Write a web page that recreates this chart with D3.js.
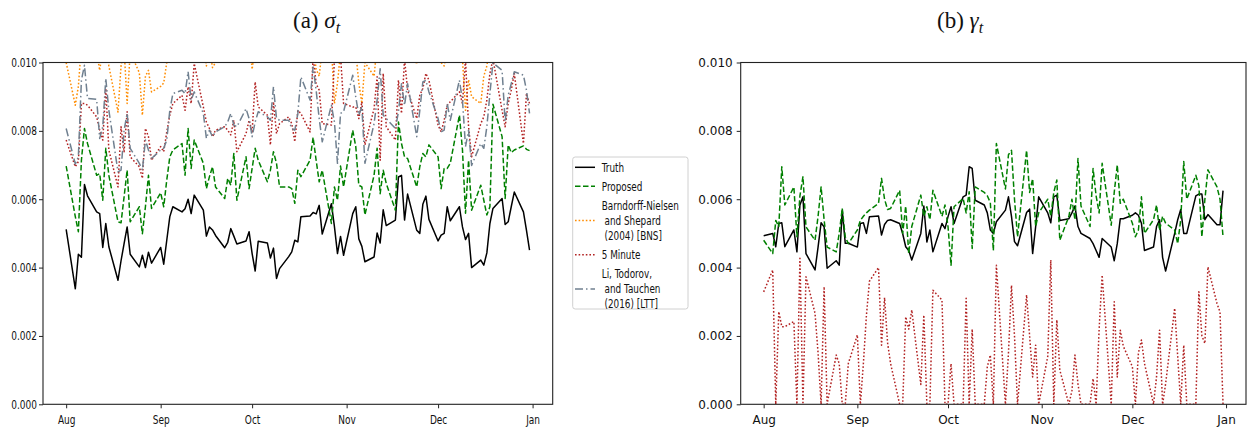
<!DOCTYPE html>
<html>
<head>
<meta charset="utf-8">
<script src="https://cdn.jsdelivr.net/npm/d3@7"></script>
<style>
  body { margin: 0; background: #fff; }
  svg { display: block; }
  .axis path, .axis line { stroke: #222; }
  .axis text { fill: #111; font-family: "DejaVu Sans", sans-serif; }
</style>
</head>
<body>
<svg id="fig" width="1249" height="429"></svg>
<script>
// trading days Aug 1 .. Dec 31 (weekdays)
var startDay = Date.UTC(2014, 7, 1);
var endDay = Date.UTC(2015, 0, 1);
var days = d3.utcDay.range(new Date(startDay), new Date(endDay))
    .filter(function (d) { return d.getUTCDay() !== 0 && d.getUTCDay() !== 6; });

var monthTicks = d3.utcMonth.range(new Date(startDay), new Date(Date.UTC(2015, 0, 2)));
var yTicks = [0, 0.002, 0.004, 0.006, 0.008, 0.010];

// all values below are x 1e-3
// (a) sigma_t
var sigmaTruth = [
    5.12, 3.38, 4.39, 4.30, 6.43, 6.10, 5.63, 5.58, 4.59, 5.29, 4.61, 3.63, 4.20, 4.70, 5.19, 4.39, 4.02, 4.36, 4.00, 4.45, 4.13,
    4.59, 4.10, 4.80, 5.49, 5.78, 5.63, 5.72, 6.00, 5.58, 6.12, 5.68, 4.92, 5.19, 5.10, 4.94, 4.58, 4.74, 5.14, 4.92, 4.69, 4.78, 5.05,
    4.41, 3.90, 4.77, 4.72, 4.28, 4.57, 3.68, 3.97, 4.32, 4.46, 4.80, 4.75, 5.49, 5.51, 5.61, 5.57, 5.82, 4.98, 5.87, 5.20, 4.41, 4.91, 4.36,
    5.58, 5.78, 4.84, 4.62, 4.17, 4.31, 5.01, 4.72, 5.69, 5.23, 5.39, 6.65, 6.70, 5.39, 6.15, 5.09, 5.00, 5.85, 6.09, 5.41,
    4.78, 4.95, 5.00, 5.78, 5.37, 5.78, 5.19, 4.82, 5.00, 4.00, 4.22, 4.07, 4.43, 5.29, 5.73, 6.02, 5.26, 5.34, 5.78, 6.21, 5.63, 5.09, 4.51
];
var sigmaProposed = [
    6.97, 5.49, 5.05, 7.14, 8.07, 7.63, 6.70, 6.75, 5.97, 7.49, 6.70, 5.34, 5.31, 6.07, 6.85, 5.34, 5.78, 4.99, 5.78, 6.70, 5.73,
    6.19, 5.78, 6.56, 7.24, 7.44, 7.63, 6.70, 8.07, 6.90, 7.73, 7.05, 6.31, 6.66, 6.95, 6.36, 6.02, 6.61, 6.41, 7.34, 5.97, 7.24, 6.31,
    6.90, 7.49, 7.14, 6.51, 6.85, 7.39, 7.05, 6.36, 6.36, 6.31, 5.88, 6.85, 6.66, 7.14, 7.81, 7.14, 6.51, 6.85, 5.29, 6.36, 5.97, 6.97, 6.36,
    8.02, 7.54, 6.41, 6.36, 5.54, 6.70, 7.49, 6.16, 6.85, 6.46, 5.68, 8.26, 7.63, 7.24, 7.19, 6.36, 6.95, 7.34, 7.24, 7.59,
    7.24, 6.31, 6.90, 6.90, 7.05, 8.46, 7.44, 5.59, 7.14, 5.68, 6.41, 5.97, 5.54, 5.78, 8.78, 7.83, 6.02, 7.59, 7.36, 7.44, 7.56, 7.46, 7.42
];
var sigmaBNS = [
    10.0, 8.75, 9.3, 10.5, 10.8, 10.6, 10.3, 9.77, 10.4, 10.8, 9.9, 8.55, 9.9, 10.4, 8.8, 10.3, 9.7, 8.46, 9.6, 9.77, 9.14,
    9.3, 9.4, 10.0, 10.6, 10.8, 10.8, 10.9, 10.7, 10.8, 10.6, 10.8, 9.9, 10.4, 9.85, 10.0, 10.5, 10.8, 10.9, 10.7, 10.8, 10.6, 10.8,
    9.8, 10.5, 10.8, 10.9, 10.7, 10.8, 10.9, 10.6, 10.8, 10.7, 10.9, 10.8, 10.6, 10.8, 10.5, 9.8, 9.6, 10.4, 10.5, 8.8, 9.4, 10.3, 10.7,
    10.5, 10.3, 9.4, 8.8, 10.0, 9.6, 10.5, 10.8, 10.7, 10.9, 10.6, 10.8, 10.7, 10.9, 10.8, 9.95, 10.4, 10.8, 10.7, 10.6,
    10.5, 10.0, 9.9, 10.4, 10.8, 10.6, 10.1, 8.6, 9.5, 9.0, 8.8, 9.6, 9.9, 10.5, 10.8, 10.7, 10.9, 10.8, 10.6, 10.8, 10.7, 10.9, 10.8
];
var sigmaFiveMin = [
    7.73, 6.95, 7.10, 8.80, 8.80, 8.75, 8.41, 8.02, 7.73, 9.24, 7.44, 6.36, 8.12, 7.39, 8.56, 7.24, 6.95, 6.61, 8.07, 7.83, 7.14,
    7.54, 7.39, 7.97, 8.46, 8.80, 9.04, 8.60, 9.29, 8.80, 9.97, 8.70, 8.26, 8.07, 7.83, 8.02, 8.12, 8.02, 7.88, 8.31, 7.39, 7.92, 8.31,
    7.97, 9.43, 8.70, 8.46, 7.59, 8.85, 7.92, 8.21, 8.41, 8.21, 7.68, 8.60, 8.51, 7.97, 10.2, 9.38, 9.19, 8.21, 8.17, 10.1, 10.3, 10.2, 8.80,
    8.70, 8.70, 8.36, 8.85, 7.59, 8.65, 9.58, 7.14, 9.68, 8.12, 7.73, 9.48, 8.51, 10.1, 9.19, 8.36, 9.04, 9.24, 9.68, 9.48,
    8.17, 7.97, 8.31, 8.75, 8.85, 9.14, 8.80, 10.1, 8.12, 7.24, 8.21, 8.41, 8.90, 9.68, 10.1, 8.60, 8.12, 8.80, 9.19, 9.68, 7.63, 9.09, 8.80
];
var sigmaLTT = [
    8.07, 7.03, 7.24, 9.48, 9.92, 8.95, 8.92, 7.78, 8.12, 9.53, 8.60, 6.80, 6.85, 8.02, 8.51, 7.49, 7.05, 6.85, 7.73, 7.44, 7.19,
    7.44, 7.49, 7.73, 8.60, 9.09, 9.19, 9.09, 9.73, 8.90, 9.14, 8.51, 7.78, 8.02, 7.83, 7.97, 8.12, 8.26, 8.51, 8.17, 8.12, 8.65, 8.36,
    7.83, 8.26, 8.56, 8.41, 8.31, 9.29, 8.36, 8.31, 8.31, 8.07, 8.02, 8.51, 9.58, 8.90, 9.87, 9.19, 8.36, 7.68, 8.75, 8.26, 7.05, 8.51, 8.56,
    9.63, 8.99, 8.46, 8.70, 7.05, 8.21, 8.90, 9.82, 8.46, 8.36, 8.07, 8.56, 9.38, 8.75, 9.38, 7.83, 8.60, 9.43, 9.48, 9.14,
    8.36, 7.97, 8.02, 8.80, 8.31, 9.48, 8.90, 7.54, 8.02, 6.99, 7.63, 7.49, 8.12, 9.09, 9.99, 9.77, 8.26, 9.04, 9.38, 9.73, 9.63, 9.19, 8.51
];

// (b) gamma_t
var gammaTruth = [
    4.93, 5.00, 4.61, 5.29, 5.31, 4.61, 5.10, 4.46, 5.83, 6.07, 4.41, 3.93, 4.60, 5.31, 5.19, 3.98, 4.20, 4.07, 5.68, 4.71, 4.71,
    4.60, 5.29, 5.31, 5.00, 5.49, 5.51, 4.95, 5.26, 5.38, 5.40, 5.29, 4.99, 4.61, 4.50, 4.22, 5.00, 5.80, 4.75, 5.10, 4.46, 5.29, 5.14,
    5.49, 5.78, 5.29, 6.07, 6.12, 6.95, 6.90, 5.97, 5.83, 5.60, 5.10, 5.00, 5.34, 5.68, 6.07, 5.50, 4.76, 4.64, 5.61, 5.71, 4.41, 5.20, 6.07,
    5.60, 5.31, 6.07, 6.12, 5.38, 5.43, 5.60, 5.80, 5.20, 5.00, 4.85, 4.70, 4.50, 4.30, 4.85, 4.60, 4.20, 4.70, 5.43, 5.43,
    5.53, 5.60, 5.53, 5.30, 4.50, 4.60, 5.20, 5.40, 4.30, 3.90, 5.00, 5.40, 5.70, 5.00, 5.00, 6.10, 6.15, 6.15, 5.40, 5.55, 5.25, 5.25, 6.25
];
var gammaProposed = [
    4.80, 4.41, 5.38, 5.20, 6.95, 5.83, 6.36, 4.90, 6.10, 6.66, 5.19, 4.80, 5.50, 6.36, 5.40, 4.60, 4.46, 5.00, 5.73, 4.90, 4.70,
    5.10, 5.38, 5.50, 5.60, 5.68, 5.88, 6.61, 6.00, 5.70, 5.73, 6.26, 5.00, 5.80, 4.41, 5.20, 6.12, 5.50, 5.78, 5.40, 6.26, 5.50, 5.83,
    5.20, 4.07, 5.78, 6.02, 5.60, 6.22, 4.56, 6.36, 6.20, 6.10, 5.90, 4.50, 7.63, 6.30, 7.30, 7.43, 6.00, 4.90, 7.43, 6.20, 6.60, 5.20, 5.60,
    6.00, 5.50, 6.20, 6.56, 4.80, 5.50, 6.00, 5.40, 7.19, 5.80, 5.20, 6.90, 6.10, 5.60, 7.05, 5.24, 6.20, 7.00, 5.88, 6.00,
    5.30, 4.90, 5.10, 6.07, 5.00, 5.40, 5.83, 5.09, 5.50, 5.30, 5.10, 4.70, 5.40, 7.10, 6.00, 6.70, 6.40, 4.90, 6.00, 6.86, 6.36, 6.00, 4.90
];
var gammaFiveMin = [
    3.29, 3.93, 0.00, 2.71, 2.27, 2.27, 2.42, 0.00, 4.27, 0.00, 3.73, 2.66, 1.50, 0.00, 3.44, 0.00, 1.44, 1.19, 0.00, 0.00, 1.19,
    2.03, 0.00, 1.20, 2.60, 3.60, 4.00, 1.73, 3.12, 1.80, 1.19, 0.00, 0.00, 2.56, 2.20, 2.76, 0.58, 2.61, 0.00, 0.00, 3.34, 3.05, 0.00,
    0.00, 1.19, 0.00, 0.00, 3.10, 0.00, 2.20, 0.00, 0.00, 1.10, 1.44, 0.00, 4.07, 0.00, 1.50, 3.48, 2.00, 0.00, 3.20, 2.00, 0.80, 1.73, 0.00,
    1.40, 4.22, 0.00, 2.47, 1.00, 0.00, 0.40, 1.44, 0.60, 0.00, 0.00, 0.75, 0.00, 2.20, 3.78, 0.00, 3.00, 0.80, 2.17, 1.70,
    1.10, 0.00, 1.50, 1.88, 1.20, 0.00, 0.80, 2.17, 0.00, 0.60, 2.81, 1.40, 0.00, 1.73, 0.00, 0.00, 3.29, 2.00, 1.78, 4.02, 2.95, 2.70, 0.00
];

var styles = {
    truth:    { color: '#000000', dash: null,        width: 1.5 },
    proposed: { color: '#008000', dash: '5.5,2.5',   width: 1.5 },
    bns:      { color: '#ff8c00', dash: '1.6,2',     width: 1.5 },
    fivemin:  { color: '#b22222', dash: '1.6,2',     width: 1.5 },
    ltt:      { color: '#708090', dash: '8,3,1.5,3', width: 1.5 }
};

var svg = d3.select('#fig');
var pad = 7.6 * 864e5; // matplotlib 5% x margin

function drawPanel(cfg) {
    var x = d3.scaleUtc()
        .domain([new Date(days[0].getTime() - pad), new Date(days[days.length - 1].getTime() + pad)])
        .range([cfg.left, cfg.right]);
    var y = d3.scaleLinear().domain([0, 0.010]).range([cfg.bottom, cfg.top]);

    svg.append('clipPath').attr('id', cfg.id + '-clip')
        .append('rect')
        .attr('x', cfg.left).attr('y', cfg.top)
        .attr('width', cfg.right - cfg.left).attr('height', cfg.bottom - cfg.top);

    var g = svg.append('g').attr('clip-path', 'url(#' + cfg.id + '-clip)');

    cfg.series.forEach(function (s) {
        var st = styles[s.style];
        var line = d3.line()
            .x(function (v, i) { return x(days[i]); })
            .y(function (v) { return y(v * 1e-3); });
        g.append('path')
            .attr('d', line(s.values))
            .attr('fill', 'none')
            .attr('stroke', st.color)
            .attr('stroke-width', st.width)
            .attr('stroke-dasharray', st.dash)
            .attr('stroke-linejoin', 'round');
    });

    var sx = cfg.squeeze;
    var xAxis = svg.append('g').attr('class', 'axis')
        .attr('transform', 'translate(0,' + cfg.bottom + ')')
        .call(d3.axisBottom(x).tickValues(monthTicks).tickFormat(d3.utcFormat('%b')).tickSizeOuter(0).tickSize(4).tickPadding(7));
    xAxis.select('.domain').remove();
    xAxis.selectAll('text').style('font-size', cfg.fontSize + 'px')
        .attr('transform', 'scale(' + sx + ',1)');

    var yAxis = svg.append('g').attr('class', 'axis')
        .attr('transform', 'translate(' + cfg.left + ',0)')
        .call(d3.axisLeft(y).tickValues(yTicks).tickFormat(d3.format('.3f')).tickSizeOuter(0).tickSize(4));
    yAxis.select('.domain').remove();
    yAxis.selectAll('text').style('font-size', cfg.fontSize + 'px')
        .attr('x', -cfg.yLabelGap / sx)
        .attr('transform', 'scale(' + sx + ',1)');

    svg.append('rect')
        .attr('x', cfg.left).attr('y', cfg.top)
        .attr('width', cfg.right - cfg.left).attr('height', cfg.bottom - cfg.top)
        .attr('fill', 'none').attr('stroke', '#222').attr('stroke-width', 1.1);

    var title = svg.append('text')
        .attr('x', cfg.titleX).attr('y', 28)
        .style('font-family', '"Liberation Serif", "DejaVu Serif", serif')
        .style('font-size', '23px').attr('fill', '#111');
    title.append('tspan').text(cfg.titleTag + ' ');
    title.append('tspan').style('font-style', 'italic').text(cfg.titleSymbol);
    title.append('tspan').style('font-style', 'italic').style('font-size', '16px')
        .attr('dy', 5).text('t');
}

drawPanel({
    id: 'sigma', left: 43, right: 552.7, top: 62.5, bottom: 404.3,
    squeeze: 0.72, fontSize: 12.5, yLabelGap: 6,
    titleX: 293, titleTag: '(a)', titleSymbol: 'σ',
    series: [
        { style: 'truth', values: sigmaTruth },
        { style: 'proposed', values: sigmaProposed },
        { style: 'bns', values: sigmaBNS },
        { style: 'fivemin', values: sigmaFiveMin },
        { style: 'ltt', values: sigmaLTT }
    ]
});

drawPanel({
    id: 'gamma', left: 740.7, right: 1246, top: 62.5, bottom: 404.3,
    squeeze: 1, fontSize: 12, yLabelGap: 8,
    titleX: 937, titleTag: '(b)', titleSymbol: 'γ',
    series: [
        { style: 'truth', values: gammaTruth },
        { style: 'proposed', values: gammaProposed },
        { style: 'fivemin', values: gammaFiveMin }
    ]
});

// legend (between the panels)
var legendItems = [
    { style: 'truth', lines: ['Truth'] },
    { style: 'proposed', lines: ['Proposed'] },
    { style: 'bns', lines: ['Barndorff-Nielsen', ' and Shepard', ' (2004) [BNS]'] },
    { style: 'fivemin', lines: ['5 Minute'] },
    { style: 'ltt', lines: ['Li, Todorov,', ' and Tauchen', ' (2016) [LTT]'] }
];
var lg = svg.append('g');
lg.append('rect')
    .attr('x', 572.7).attr('y', 157).attr('width', 115.3).attr('height', 152)
    .attr('rx', 2.5).attr('fill', '#fff').attr('stroke', '#d0d0d0').attr('stroke-width', 1);

var rowH = 15.2;
var rowY = 167.3;
legendItems.forEach(function (item) {
    var st = styles[item.style];
    var n = item.lines.length;
    var midY = rowY + (n - 1) * rowH / 2;
    lg.append('line')
        .attr('x1', 575).attr('x2', 595).attr('y1', midY).attr('y2', midY)
        .attr('stroke', st.color).attr('stroke-width', st.width)
        .attr('stroke-dasharray', st.dash);
    item.lines.forEach(function (t, k) {
        lg.append('text')
            .attr('x', 601.7 / 0.72).attr('y', rowY + k * rowH)
            .attr('dy', '0.35em')
            .attr('transform', 'scale(0.72,1)')
            .style('font-family', '"DejaVu Sans", sans-serif')
            .style('font-size', '12.3px')
            .style('white-space', 'pre')
            .attr('fill', '#111')
            .text(t);
    });
    rowY += n * rowH + 3.8;
});
</script>
</body>
</html>
